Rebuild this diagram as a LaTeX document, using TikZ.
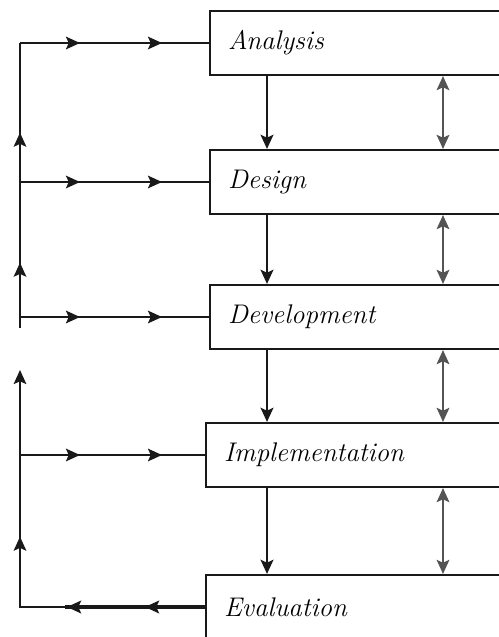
\documentclass[tikz,border=0pt]{standalone}
\usetikzlibrary{arrows.meta,decorations.markings,calc}
\definecolor{LineClr}{rgb}{0.1,0.1,0.1}
\definecolor{LinkClr}{rgb}{0.33,0.33,0.33}

\begin{document}
\begin{tikzpicture}[x=0.015cm,y=-0.015cm,
  >={Stealth[length=6pt,width=5.4pt,inset=1.2pt]},
  phase/.style={draw=LineClr,line width=0.9pt,anchor=west,minimum height=0.96cm,
    text width=5cm,inner xsep=0.27cm,align=left,
    font=\fontsize{11.5}{13}\selectfont\itshape},
  flow/.style={draw=LineClr,line width=1.2pt,->},
  link/.style={draw=LinkClr,line width=0.9pt,<->},
  rail/.style={draw=LineClr,line width=0.8pt},
  feed/.style={rail,postaction={decorate},decoration={markings,
    mark=at position 0.9cm with {\arrow{>}},
    mark=at position 2.13cm with {\arrow{>}}}}]
\useasboundingbox (0,0) rectangle (499,637);
\clip (0,0) rectangle (499,637);

\node[phase] (ana) at (209,43) {Analysis};
\node[phase] (des) at (209,182) {Design};
\node[phase] (dev) at (209,317) {Development};
\node[phase] (imp) at (205,455) {Implementation};
\node[phase] (eva) at (205,607) {Evaluation};

\coordinate (vcol) at (267,0);
\coordinate (dcol) at (443,0);
\coordinate (spine) at (20,0);
\coordinate (upbot) at (20,328);
\coordinate (lowtop) at (20,370);
\coordinate (knee) at ($(spine |- eva.west)+(45,0)$);

\foreach \u/\l in {ana/des,des/dev,dev/imp,imp/eva}{
  \draw[flow] (vcol |- \u.south) -- (vcol |- \l.north);
  \draw[link] (dcol |- \u.south) -- (dcol |- \l.north);
}

\foreach \b in {ana,des,dev,imp}
  \draw[feed] (spine |- \b.west) -- (\b.west);

\draw[rail,postaction={decorate},decoration={markings,
    mark=at position 0.98cm with {\arrow{>}},
    mark=at position 2.93cm with {\arrow{>}}}]
  (upbot) -- (spine |- ana.west);

\draw[draw=LineClr,line width=1.4pt,postaction={decorate},decoration={markings,
    mark=at position 0.9cm with {\arrow{>}},
    mark=at position 2.07cm with {\arrow{>}}}]
  (eva.west) -- (knee);
\draw[rail,->,postaction={decorate},decoration={markings,
    mark=at position 1.73cm with {\arrow{>}}}]
  (knee) -- (spine |- eva.west) -- (lowtop);

\end{tikzpicture}
\end{document}
